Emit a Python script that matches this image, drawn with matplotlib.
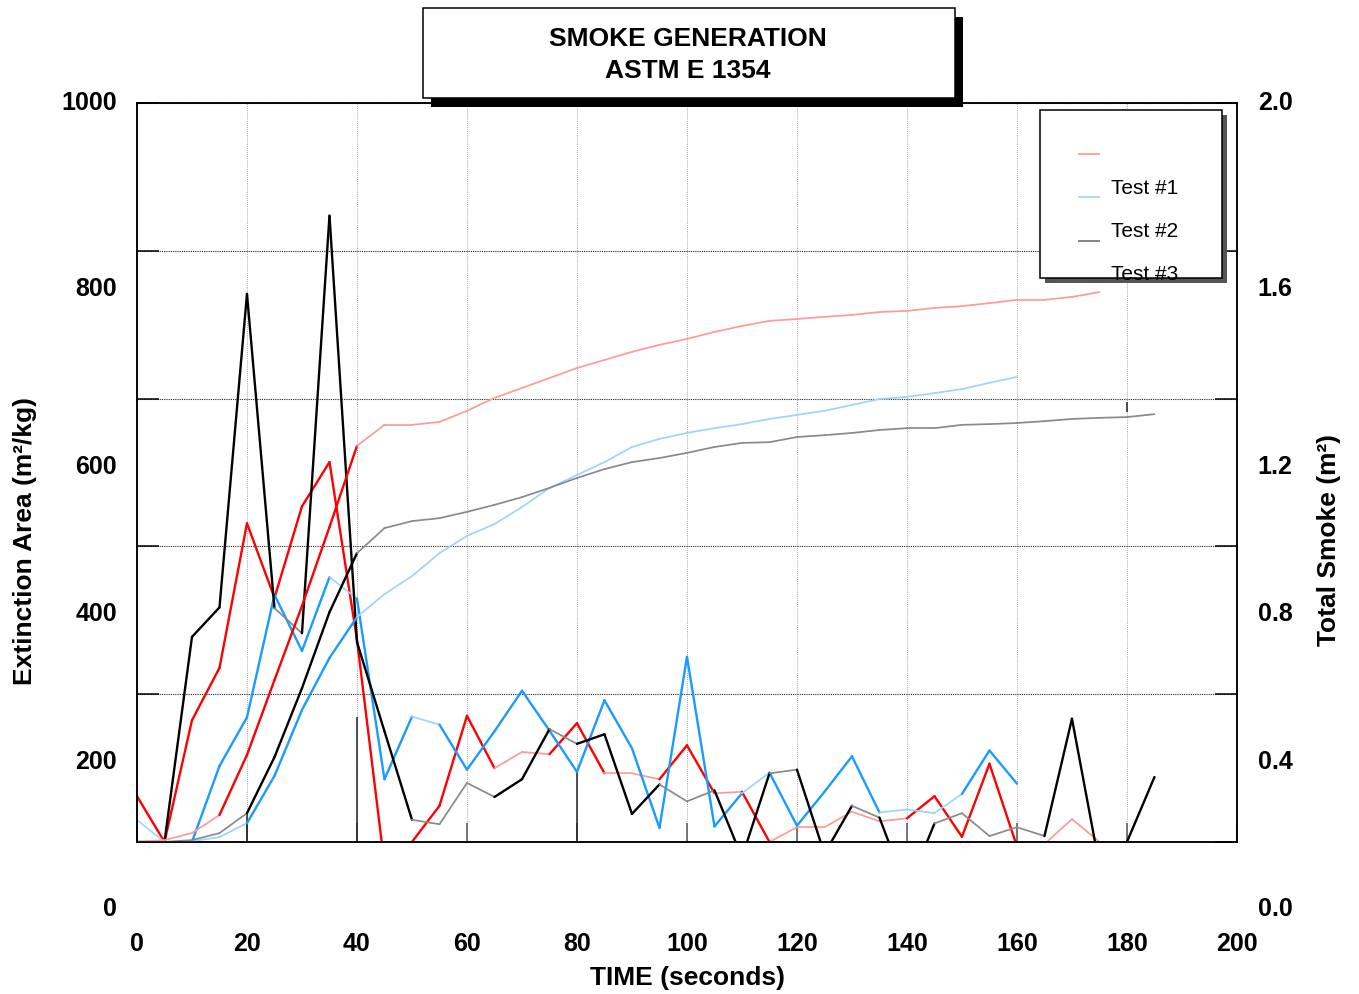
import matplotlib
matplotlib.use("Agg")
import matplotlib.pyplot as plt
import numpy as np
from matplotlib.lines import Line2D
from matplotlib.patches import Rectangle

plt.rcParams["font.family"] = ["Liberation Sans", "DejaVu Sans"]

# time axis (seconds), 5 s steps
TIME = list(range(0, 190, 5))

# extinction area (m2/kg), left axis
TEST1_EXTINCTION = [153, 91, 256, 327, 523, 422, 546, 606, 365, 60,
                    91, 140, 262, 191, 213, 210, 252, 184, 184, 176,
                    222, 157, 159, 91, 111, 111, 132, 119, 123, 153,
                    98, 197, 85, 88, 122, 91]
TEST2_EXTINCTION = [121, 91, 91, 194, 260, 426, 350, 450, 421, 176,
                    261, 250, 189, 241, 296, 242, 186, 283, 218, 110,
                    342, 112, 157, 185, 113, 159, 207, 131, 135, 130,
                    156, 215, 170]
TEST3_EXTINCTION = [91, 91, 369, 409, 834, 408, 374, 940, 362, 241,
                    121, 115, 171, 152, 176, 244, 224, 237, 129, 169,
                    146, 161, 70, 184, 189, 75, 140, 124, 25, 116,
                    130, 99, 111, 99, 258, 59, 91, 179]

# total smoke (m2), right axis
TEST1_SMOKE = [0.182, 0.187, 0.206, 0.255, 0.418, 0.621, 0.822, 1.036, 1.256, 1.313,
               1.313, 1.321, 1.351, 1.386, 1.413, 1.440, 1.467, 1.489, 1.511, 1.530,
               1.546, 1.565, 1.581, 1.595, 1.600, 1.606, 1.611, 1.619, 1.622, 1.630,
               1.635, 1.643, 1.652, 1.652, 1.660, 1.673]
TEST2_SMOKE = [0.182, 0.182, 0.184, 0.195, 0.233, 0.361, 0.540, 0.681, 0.792, 0.854,
               0.903, 0.965, 1.012, 1.044, 1.090, 1.142, 1.177, 1.212, 1.253, 1.275,
               1.291, 1.304, 1.315, 1.329, 1.340, 1.351, 1.367, 1.383, 1.389, 1.399,
               1.410, 1.427, 1.443]
TEST3_SMOKE = [0.182, 0.182, 0.187, 0.206, 0.260, 0.412, 0.599, 0.805, 0.965, 1.033,
               1.052, 1.060, 1.077, 1.096, 1.117, 1.142, 1.169, 1.193, 1.212, 1.223,
               1.237, 1.253, 1.264, 1.266, 1.280, 1.285, 1.291, 1.299, 1.304, 1.304,
               1.313, 1.315, 1.318, 1.323, 1.329, 1.332, 1.334, 1.342]

# stray vertical marks near the bottom of the plot (time, top value)
MARK_TIMES = [20, 40, 80]
MARK_TOPS = [130, 260, 186]

EXT_TICK_LABELS = ["0", "200", "400", "600", "800", "1000"]
SMOKE_TICK_LABELS = ["0.0", "0.4", "0.8", "1.2", "1.6", "2.0"]
X_TICKS = list(range(0, 201, 20))
LEGEND_LABELS = ["Test #1", "Test #2", "Test #3"]

# ---- layout / style ----
EXT_LIMITS = (90.9, 1092.9)
SMOKE_SCALE = 500.0
EXT_LABEL_POS = [0, 200, 400, 600, 841, 1093]

RED, LIGHT_RED = "#ff0000", "#ff9a9a"
BLUE, LIGHT_BLUE = "#1a9bff", "#9fd3ff"
BLACK, GREY = "#000000", "#8a8a8a"

# segments (by start time) that render in the pale shade
TEST1_EXT_FADED = [65, 70, 85, 90, 105, 115, 120, 125, 130, 135, 165, 170]
TEST2_EXT_FADED = [0, 5, 35, 50, 110, 135, 140, 145]
TEST3_EXT_FADED = [25, 50, 55, 60, 75, 95, 100, 115, 130, 145, 150, 155, 160]
TEST1_SMOKE_FADED = [0, 5, 10] + list(range(40, 180, 5))
TEST2_SMOKE_FADED = [0, 5, 10, 15] + list(range(40, 165, 5))
TEST3_SMOKE_FADED = [0, 5, 10, 15] + list(range(40, 190, 5))

BOLD = dict(fontsize=18, fontweight="bold")


def draw_series(ax, values, color, pale, faded):
    times = TIME[:len(values)]
    for i in range(len(values) - 1):
        is_faded = times[i] in faded
        ax.plot(times[i:i + 2], values[i:i + 2],
                color=pale if is_faded else color,
                lw=1.25 if is_faded else 1.7,
                solid_capstyle="round", solid_joinstyle="round")


def px(x, y):
    W, H = 1359.0, 994.0
    return x / W, 1 - y / H


fig = plt.figure(figsize=(13.59, 9.94), dpi=100)
ax = fig.add_axes([0.1008, 0.1529, 0.8094, 0.7435])
ax2 = ax.twinx()

ax.set_xlim(0, 200)
ax.set_ylim(EXT_LIMITS)
ax2.set_ylim(EXT_LIMITS[0] / SMOKE_SCALE, EXT_LIMITS[1] / SMOKE_SCALE)

ax.set_xticks(X_TICKS)
ax.set_xticklabels([str(t) for t in X_TICKS], fontweight="bold")
ax.tick_params(axis="x", direction="in", length=13.5, width=1.1, color="#555555",
               pad=65, labelsize=18)
ax.set_yticks(np.linspace(EXT_LIMITS[0], EXT_LIMITS[1], 6))
ax.tick_params(axis="y", direction="in", length=16, width=1.1, left=True, right=True,
               labelleft=False)
ax2.set_yticks([])

ax.grid(axis="y", linestyle=(0, (1, 1)), color="#222222", lw=0.8)
ax.grid(axis="x", linestyle=(0, (1, 1.5)), color="#8c8c8c", lw=0.6)
for a in (ax, ax2):
    for s in a.spines.values():
        s.set_linewidth(1.1)

ax.vlines(MARK_TIMES, EXT_LIMITS[0], MARK_TOPS, color="#222222", lw=1.1)
ax.vlines([180], 674, 688, color="#222222", lw=1.1)

draw_series(ax, TEST1_EXTINCTION, RED, LIGHT_RED, TEST1_EXT_FADED)
draw_series(ax, TEST2_EXTINCTION, BLUE, LIGHT_BLUE, TEST2_EXT_FADED)
draw_series(ax, TEST3_EXTINCTION, BLACK, GREY, TEST3_EXT_FADED)
draw_series(ax2, TEST1_SMOKE, RED, LIGHT_RED, TEST1_SMOKE_FADED)
draw_series(ax2, TEST2_SMOKE, BLUE, LIGHT_BLUE, TEST2_SMOKE_FADED)
draw_series(ax2, TEST3_SMOKE, BLACK, GREY, TEST3_SMOKE_FADED)

for label, pos in zip(EXT_TICK_LABELS, EXT_LABEL_POS):
    ax.text(-0.018, pos, label, transform=ax.get_yaxis_transform(),
            ha="right", va="center", **BOLD)
for label, pos in zip(SMOKE_TICK_LABELS, EXT_LABEL_POS):
    ax2.text(1.019, pos / SMOKE_SCALE, label, transform=ax2.get_yaxis_transform(),
             ha="left", va="center", **BOLD)

fig.text(*px(25, 541), "Extinction Area (m²/kg)", rotation=90,
         ha="center", va="center", fontsize=19, fontweight="bold")
fig.text(*px(1329, 540), "Total Smoke (m²)", rotation=90,
         ha="center", va="center", fontsize=19, fontweight="bold")
fig.text(*px(687, 978), "TIME (seconds)", ha="center", va="center",
         fontsize=19, fontweight="bold")

# title box with hard shadow
x0, y1 = px(423, 98)
x1, y0 = px(955, 8)
fig.add_artist(Rectangle((x0 + 8 / 1359, y1 - 9 / 994), x1 - x0, y0 - y1,
                         transform=fig.transFigure, facecolor="black", edgecolor="none"))
fig.add_artist(Rectangle((x0, y1), x1 - x0, y0 - y1, transform=fig.transFigure,
                         facecolor="white", edgecolor="black", lw=1.1))
fig.text(*px(688, 55), "SMOKE GENERATION\nASTM E 1354", ha="center", va="center",
         fontsize=19, fontweight="bold", linespacing=1.45, zorder=5)

# legend box
lx0, ly0 = px(1040, 278)
lx1, ly1 = px(1222, 110)
fig.add_artist(Rectangle((lx0 + 5 / 1359, ly0 - 5 / 994), lx1 - lx0, ly1 - ly0,
                         transform=fig.transFigure, facecolor="#555555", edgecolor="none"))
fig.add_artist(Rectangle((lx0, ly0), lx1 - lx0, ly1 - ly0, transform=fig.transFigure,
                         facecolor="white", edgecolor="black", lw=1.1))
for i, (label, color) in enumerate(zip(LEGEND_LABELS, [LIGHT_RED, LIGHT_BLUE, "#7a7a7a"])):
    yl = 154 + 43.5 * i
    xa, ya = px(1079, yl)
    xb, _ = px(1099, yl)
    fig.add_artist(Line2D([xa, xb], [ya, ya], transform=fig.transFigure, color=color,
                          lw=1.3, zorder=5))
    fig.text(*px(1111, yl + 34), label, ha="left", va="center", fontsize=15, zorder=6)

fig.savefig("out.png", dpi=100)
